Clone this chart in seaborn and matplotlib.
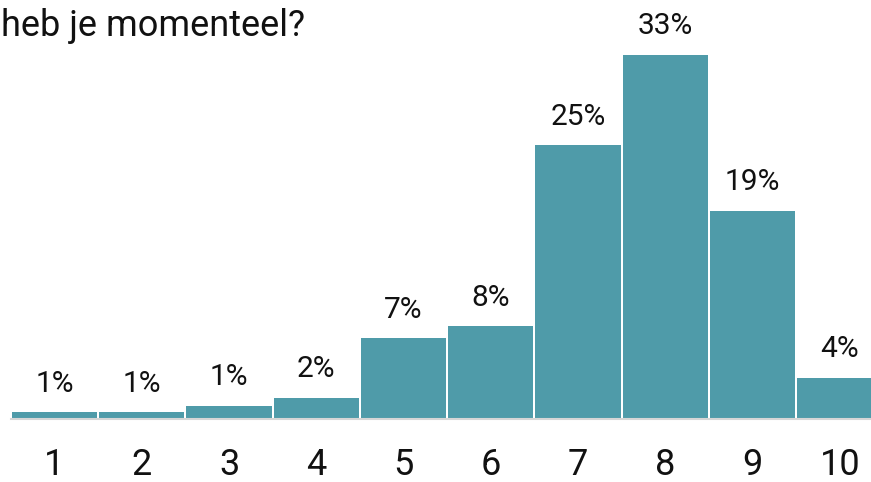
import matplotlib
matplotlib.use("Agg")
import matplotlib.pyplot as plt
import seaborn as sns
import pandas as pd

# Score distribution (share of respondents, %)
scores = ["1", "2", "3", "4", "5", "6", "7", "8", "9", "10"]
shares = [0.6, 0.6, 1.2, 1.9, 7.3, 8.4, 24.8, 33.0, 18.9, 3.7]
title_line = "heb je momenteel?"

bar_color = "#4f9ba9"
axis_color = "#d6d6d6"

sns.set_theme(style="white")
plt.rcParams["font.family"] = ["Roboto", "DejaVu Sans"]

df = pd.DataFrame({"score": scores, "share": shares})

W, H = 871, 482
fig = plt.figure(figsize=(W / 100, H / 100), dpi=100)
# axes extends slightly past the right edge so the last bar is cut off
left_px, right_px = 10.9, 883.4
base_px = 63
ymax = 33.0
top_px = H - 55
ax = fig.add_axes([left_px / W, base_px / H, (right_px - left_px) / W, (top_px - base_px) / H])

sns.barplot(data=df, x="score", y="share", color=bar_color, saturation=1,
            width=0.975, ax=ax, edgecolor="none", linewidth=0)

ax.set_xlim(-0.5, 9.5)
ax.set_ylim(0, ymax)

for i, v in enumerate(shares):
    ax.annotate(f"{v:.0f}%", xy=(i, v), xytext=(0, 15), textcoords="offset points",
                ha="center", va="baseline", fontsize=21.5, color="#111111",
                annotation_clip=False)

for s in ["top", "right", "left"]:
    ax.spines[s].set_visible(False)
ax.spines["bottom"].set_color(axis_color)
ax.spines["bottom"].set_linewidth(1.5)
ax.spines["bottom"].set_zorder(3)

ax.set_yticks([])
ax.set_xlabel("")
ax.set_ylabel("")
ax.tick_params(axis="x", length=0, pad=20, labelsize=26, labelcolor="#111111")

fig.text(1 / W, 1 - 36 / H, title_line, ha="left", va="baseline",
         fontsize=26, color="#111111")

fig.savefig("out.png", dpi=100)
